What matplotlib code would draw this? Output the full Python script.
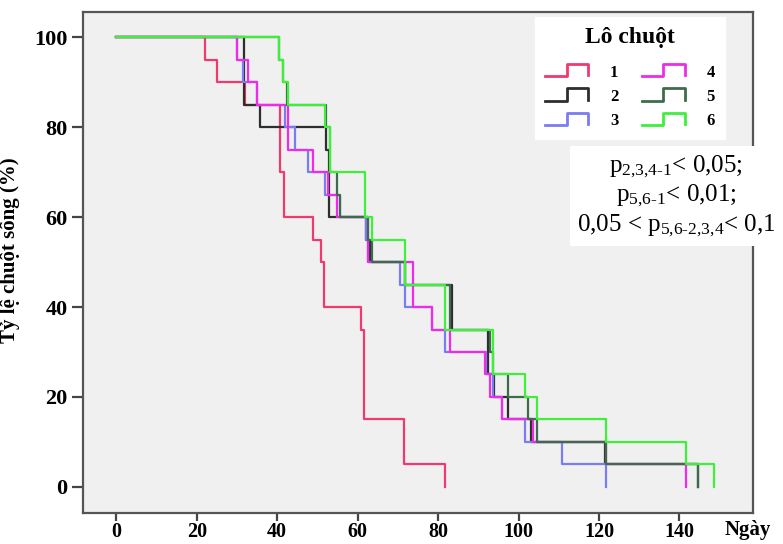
import matplotlib
matplotlib.use("Agg")
import matplotlib.pyplot as plt
from matplotlib.lines import Line2D
from matplotlib.legend_handler import HandlerBase

plt.rcParams['font.family'] = ['Liberation Serif', 'DejaVu Serif']
plt.rcParams['mathtext.fontset'] = 'custom'
plt.rcParams['mathtext.rm'] = 'Liberation Serif'
plt.rcParams['mathtext.it'] = 'Liberation Serif:italic'
plt.rcParams['mathtext.bf'] = 'Liberation Serif:bold'

# survival data (day of event, % alive after event)
t1 = [0, 22, 25, 32, 40.7, 41.7, 49, 50.8, 51.7, 60.8, 61.6, 71.6, 81.7]
s1 = [100, 95, 90, 85, 70, 60, 55, 50, 40, 35, 15, 5, 0]

t2 = [0, 31.8, 35.7, 52, 52.8, 62, 63, 71.8, 83.5, 92.5, 94, 97.5, 103, 121.5, 144.6]
s2 = [100, 85, 80, 75, 60, 55, 50, 45, 35, 25, 20, 15, 10, 5, 0]

t3 = [0, 30, 31.5, 34.9, 42, 44.4, 47.6, 51.9, 55.6, 62, 62.5, 70.5, 71.8, 78.4,
      81.7, 92, 93.7, 95.8, 101.6, 110.7, 121.8]
s3 = [100, 95, 90, 85, 80, 75, 70, 65, 60, 55, 50, 45, 40, 35,
      30, 25, 20, 15, 10, 5, 0]

t4 = [0, 29.9, 32.8, 34.9, 42.6, 49, 52.7, 54.8, 62.6, 73.8, 78.4, 83, 91.7,
      92.9, 95.8, 103.7, 121.8, 141.7]
s4 = [100, 95, 90, 85, 75, 70, 65, 60, 50, 40, 35, 30, 25,
      20, 15, 10, 5, 0]

t5 = [0, 40.4, 41.5, 42.5, 52, 53, 54.8, 55.6, 62.6, 63.5, 71.8, 83, 92.9,
      93.7, 97.5, 102.4, 104.5, 121.8, 144.6]
s5 = [100, 95, 90, 85, 80, 70, 65, 60, 55, 50, 45, 35, 30,
      25, 20, 15, 10, 5, 0]

t6 = [0, 40.5, 41.5, 42.7, 51.9, 53.1, 61.8, 63.5, 71.8, 81.7, 93.7,
      101.6, 104.5, 121.8, 141.7, 148.7]
s6 = [100, 95, 90, 85, 80, 70, 60, 55, 45, 35, 25,
      20, 15, 10, 5, 0]

groups = ['1', '2', '3', '4', '5', '6']
colors = ['#f0396f', '#2e2e2e', '#7a7cf2', '#ee2ce8', '#3d6b4c', '#3ef03a']
series = [(t1, s1), (t2, s2), (t3, s3), (t4, s4), (t5, s5), (t6, s6)]


class StepHandler(HandlerBase):
    def create_artists(self, legend, orig_handle, xdescent, ydescent,
                       width, height, fontsize, trans):
        x0, y0 = -xdescent, -ydescent
        xs = [x0, x0 + 0.5 * width, x0 + 0.5 * width, x0 + width, x0 + width]
        ys = [y0, y0, y0 + 1.1 * height, y0 + 1.1 * height, y0 + 0.1 * height]
        ln = Line2D(xs, ys, color=orig_handle.get_color(), lw=2.0)
        ln.set_transform(trans)
        return [ln]


fig = plt.figure(figsize=(7.83, 5.44), dpi=100)
ax = fig.add_axes([83 / 783, 31 / 544, 670 / 783, 501 / 544])
ax.set_facecolor('#f0f0f0')

handles = []
for (t, s), c, g in zip(series, colors, groups):
    h, = ax.step(t, s, where='post', color=c, lw=1.6, label=g)
    handles.append(h)

ax.set_xlim(-8.3, 158.3)
ax.set_ylim(-5.8, 105.6)
ax.set_xticks(range(0, 141, 20))
ax.set_yticks(range(0, 101, 20))
for sp in ax.spines.values():
    sp.set_color('#555555')
    sp.set_linewidth(1.6)
ax.tick_params(axis='both', direction='out', length=8, width=1.6,
               color='#444444', labelsize=16, pad=3)
ax.tick_params(axis='x', length=5.5, labelsize=14.5, pad=1)
for lab in ax.get_xticklabels() + ax.get_yticklabels():
    lab.set_fontweight('bold')

ax.set_ylabel('Tỷ lệ chuột sống (%)', fontsize=15, fontweight='bold')
ax.yaxis.set_label_coords(-0.094, 0.525)

fig.text(748 / 783, 1 - 530 / 544, 'Ngày', ha='center', va='center',
         fontsize=15, fontweight='bold')

# legend: groups 1-3 left column, 4-6 right column
leg = ax.legend(handles, groups, ncol=2, title='Lô chuột',
                handler_map={Line2D: StepHandler()},
                loc='upper left', bbox_to_anchor=(535 / 783, 1 - 17 / 544),
                bbox_transform=fig.transFigure, borderaxespad=0,
                prop={'weight': 'bold', 'size': 12},
                title_fontproperties={'weight': 'bold', 'size': 17},
                handlelength=2.6, handleheight=0.65, handletextpad=1.3,
                columnspacing=1.4, labelspacing=0.5, borderpad=0.6,
                frameon=True, fancybox=False, framealpha=1,
                edgecolor='white', facecolor='white')
leg._legend_box.sep = 12

fig.text(676 / 783, 1 - 196 / 544,
         '$\\mathrm{p}_{\\text{2,3,4-1}}$< 0,05;\n'
         '$\\mathrm{p}_{\\text{5,6-1}}$< 0,01;\n'
         '0,05 < $\\mathrm{p}_{\\text{5,6-2,3,4}}$< 0,1',
         ha='center', va='center', multialignment='center', fontsize=18,
         linespacing=1.15,
         bbox=dict(facecolor='white', edgecolor='none', pad=5))

fig.savefig('out.png', dpi=100)
